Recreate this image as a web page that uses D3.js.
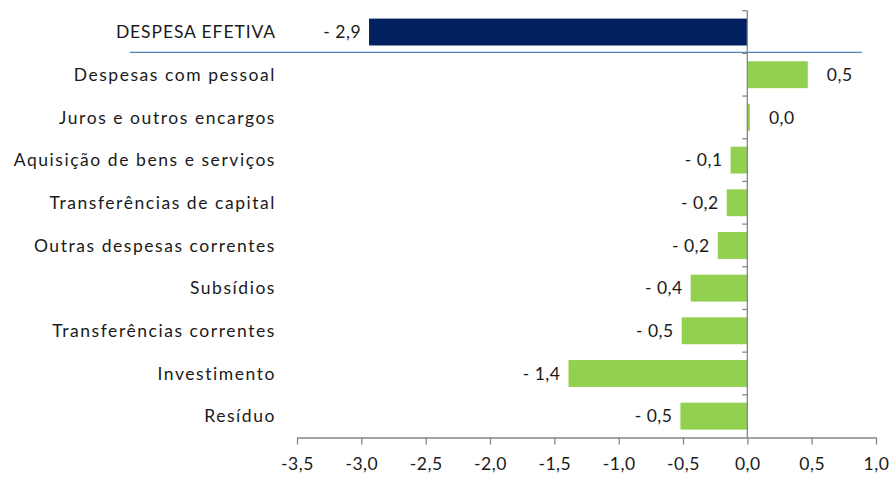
<!DOCTYPE html>
<html>
<head>
<meta charset="utf-8">
<script src="https://cdn.jsdelivr.net/npm/d3@7"></script>
<style>
    body { margin: 0; background: #fff; }
    svg text { font-family: Lato, "Open Sans", sans-serif; fill: #1a1a1a; }
    .cat-label { font-size: 17.5px; letter-spacing: 1.55px; }
    .val-label { font-size: 17.5px; letter-spacing: 0.5px; }
</style>
</head>
<body>
<svg id="chart" width="893" height="477"></svg>
<script>
// Categories, top to bottom
const categories = [
    'DESPESA EFETIVA',
    'Despesas com pessoal',
    'Juros e outros encargos',
    'Aquisição de bens e serviços ',
    'Transferências de capital',
    'Outras despesas correntes',
    'Subsídios',
    'Transferências correntes',
    'Investimento',
    'Resíduo'
];
// Contributions (p.p.)
const values = [-2.94, 0.47, 0.02, -0.13, -0.16, -0.23, -0.44, -0.51, -1.39, -0.52];
// x axis tick values
const xTicks = [-3.5, -3.0, -2.5, -2.0, -1.5, -1.0, -0.5, 0.0, 0.5, 1.0];

const pt = d3.formatLocale({decimal: ',', thousands: '.', grouping: [3], currency: ['', '€'], minus: '-'});
const fmt1 = pt.format('.1f');

// Value label formatter, Excel style "- 0,5"
const valueFormatter = (v) => v < 0 ? `- ${fmt1(-v)}` : fmt1(v);

function drawChart() {
    const svg = d3.select('#chart');
    const data = categories.map((c, i) => ({ cat: c, value: values[i] }));

    const xScale = d3.scaleLinear()
        .domain([-3.5, 1.0])
        .range([297, 876]);

    const yScale = d3.scaleBand()
        .domain(categories)
        .range([10.7, 437.5])
        .paddingInner(0.37)
        .paddingOuter(0.185);

    const axisY = 437.5;
    const gap = (yScale.step() - yScale.bandwidth()) / 2;

    // Bars
    svg.selectAll('.bar')
        .data(data)
        .enter()
        .append('rect')
        .attr('class', 'bar')
        .attr('x', d => xScale(Math.min(0, d.value)))
        .attr('y', d => yScale(d.cat))
        .attr('width', d => Math.abs(xScale(d.value) - xScale(0)))
        .attr('height', yScale.bandwidth())
        .style('fill', (d, i) => i === 0 ? '#002060' : '#92D050');

    // Separator line under the total
    svg.append('line')
        .attr('x1', 130)
        .attr('x2', xScale(0.89))
        .attr('y1', yScale(categories[1]) - gap - 1)
        .attr('y2', yScale(categories[1]) - gap - 1)
        .style('stroke', '#4F81BD')
        .style('stroke-width', 1.3);

    // Vertical zero axis with ticks at category boundaries
    svg.append('line')
        .attr('x1', xScale(0))
        .attr('x2', xScale(0))
        .attr('y1', yScale.range()[0])
        .attr('y2', axisY)
        .style('stroke', '#868686')
        .style('stroke-width', 1.3);
    svg.selectAll('.ytick')
        .data(categories)
        .enter()
        .append('line')
        .attr('x1', xScale(0) - 5)
        .attr('x2', xScale(0))
        .attr('y1', d => yScale(d) - gap)
        .attr('y2', d => yScale(d) - gap)
        .style('stroke', '#868686')
        .style('stroke-width', 1.3);

    // Bottom x axis
    const xAxis = svg.append('g')
        .attr('transform', `translate(0,${axisY})`)
        .call(d3.axisBottom(xScale)
            .tickValues(xTicks)
            .tickFormat(d => fmt1(d))
            .tickSize(7)
            .tickSizeOuter(0)
            .tickPadding(13));
    xAxis.select('.domain').style('stroke', '#868686').style('stroke-width', 1.3);
    xAxis.selectAll('.tick line').style('stroke', '#868686').style('stroke-width', 1.3);
    xAxis.selectAll('.tick text')
        .style('font-family', 'Lato, sans-serif')
        .style('font-size', '17.5px')
        .style('letter-spacing', '0.5px')
        .style('fill', '#1a1a1a');

    // Category labels
    svg.selectAll('.cat-label')
        .data(data)
        .enter()
        .append('text')
        .attr('class', 'cat-label')
        .attr('x', 276)
        .attr('y', d => yScale(d.cat) + yScale.bandwidth() / 2)
        .attr('dy', '0.35em')
        .attr('text-anchor', 'end')
        .style('letter-spacing', (d, i) => i === 0 ? '0.9px' : null)
        .text(d => d.cat);

    // Value labels
    svg.selectAll('.val-label')
        .data(data)
        .enter()
        .append('text')
        .attr('class', 'val-label')
        .attr('x', d => d.value < 0 ? xScale(d.value) - 8 : xScale(d.value) + 19)
        .attr('y', d => yScale(d.cat) + yScale.bandwidth() / 2)
        .attr('dy', '0.35em')
        .attr('text-anchor', d => d.value < 0 ? 'end' : 'start')
        .text(d => valueFormatter(d.value));
}

drawChart();
</script>
</body>
</html>
